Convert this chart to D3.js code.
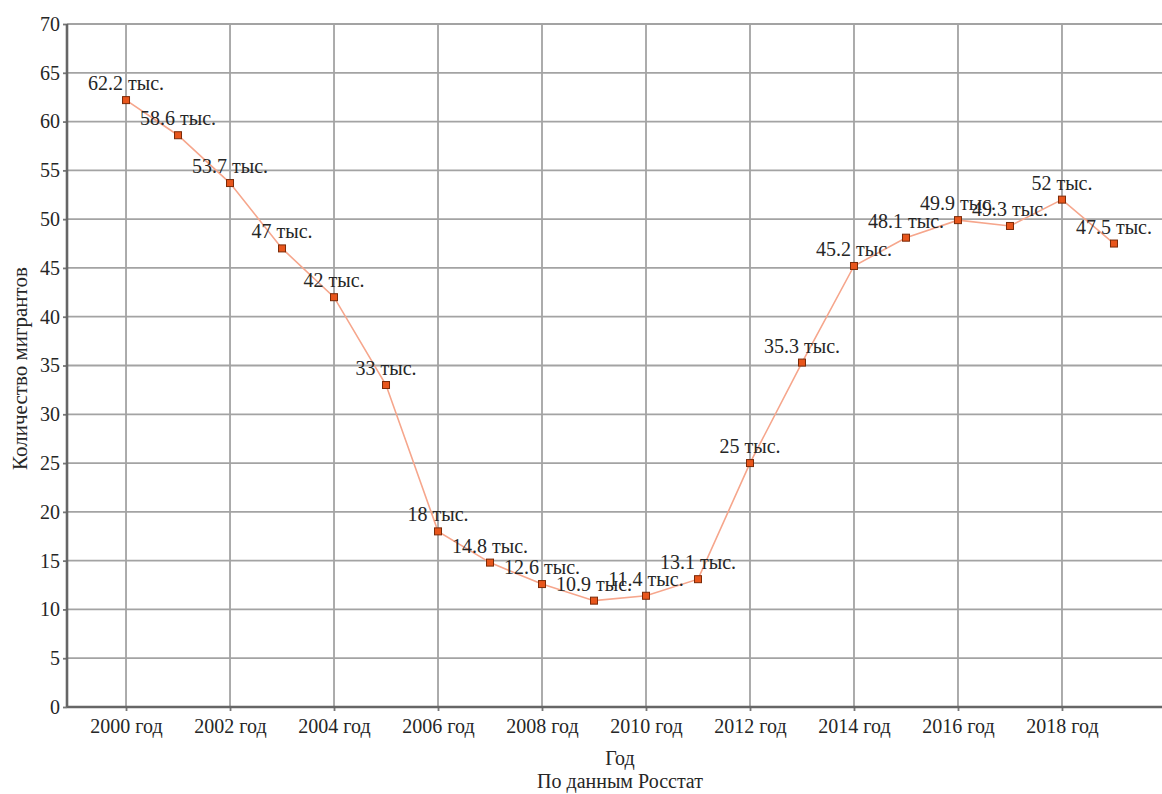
<!DOCTYPE html>
<html><head><meta charset="utf-8">
<script src="https://cdn.jsdelivr.net/npm/d3@7"></script>
<style>body{margin:0;background:#fff}</style>
</head><body><svg id="c" width="1162" height="794"></svg>
<script>
const years = [2000,2001,2002,2003,2004,2005,2006,2007,2008,2009,2010,2011,2012,2013,2014,2015,2016,2017,2018,2019];
const values = [62.2,58.6,53.7,47,42,33,18,14.8,12.6,10.9,11.4,13.1,25,35.3,45.2,48.1,49.9,49.3,52,47.5];
const xTickYears = [2000,2002,2004,2006,2008,2010,2012,2014,2016,2018];
const yTicks = [0,5,10,15,20,25,30,35,40,45,50,55,60,65,70];
const labelSuffix = " тыс.";
const yearSuffix = " год";

const TXT = "#262626";
const svg = d3.select("#c");
const L = 67, T = 24, B = 707, R = 1173;
const x = d3.scaleLinear().domain([1998.865, 2020.135]).range([L, R]);
const y = d3.scaleLinear().domain([0, 70]).range([B, T]);

function serif(sel, size) {
  return sel.style("font-family", '"Times New Roman"').attr("font-size", size).attr("fill", TXT);
}

// grid
svg.append("g").selectAll("line").data(yTicks.filter(d=>d>0)).join("line")
  .attr("x1", L).attr("x2", 1162).attr("y1", d=>y(d)).attr("y2", d=>y(d))
  .attr("stroke", "#a3a3a3").attr("stroke-width", 1.8);
svg.append("g").selectAll("line").data(xTickYears).join("line")
  .attr("x1", d=>x(d)).attr("x2", d=>x(d)).attr("y1", T).attr("y2", B)
  .attr("stroke", "#a3a3a3").attr("stroke-width", 1.8);

// axes
const yAxis = svg.append("g").attr("transform", `translate(${L},0)`)
  .call(d3.axisLeft(y).tickValues(yTicks).tickSize(4).tickPadding(3).tickFormat(d3.format("d")));
const xAxis = svg.append("g").attr("transform", `translate(0,${B})`)
  .call(d3.axisBottom(x).tickValues(xTickYears).tickSize(4).tickPadding(8).tickFormat(d=>d+yearSuffix));
[xAxis, yAxis].forEach(a=>{
  a.attr("font-family", null).attr("font-size", null);
  a.select(".domain").remove();
  a.selectAll(".tick line").attr("stroke","#777").attr("stroke-width",1.8);
  serif(a.selectAll("text"), 20);
});
svg.append("line").attr("x1",L).attr("x2",L).attr("y1",T).attr("y2",B).attr("stroke","#666").attr("stroke-width",2.6);
svg.append("line").attr("x1",L).attr("x2",1162).attr("y1",B).attr("y2",B).attr("stroke","#666").attr("stroke-width",2.6);

// line
const data = years.map((yr,i)=>({yr, v: values[i]}));
svg.append("path").datum(data)
  .attr("d", d3.line().x(d=>x(d.yr)).y(d=>y(d.v)))
  .attr("fill","none").attr("stroke","#f6a68c").attr("stroke-width",1.6);

svg.append("g").selectAll("rect").data(data).join("rect")
  .attr("x", d=>x(d.yr)-3.5).attr("y", d=>y(d.v)-3.5).attr("width",7).attr("height",7)
  .attr("fill","#e8561c").attr("stroke","#7a2a08").attr("stroke-width",1);

serif(svg.append("g").selectAll("text").data(data).join("text")
  .attr("x", d=>x(d.yr)).attr("y", d=>y(d.v)-10).attr("text-anchor","middle")
  .text(d=>d.v+labelSuffix), 20);

// titles
serif(svg.append("text").attr("transform",`translate(27,${(T+B)/2+3}) rotate(-90)`).attr("text-anchor","middle")
  .text("Количество мигрантов"), 21);
serif(svg.append("text").attr("x",(L+R)/2).attr("y",765).attr("text-anchor","middle").text("Год"), 20);
serif(svg.append("text").attr("x",(L+R)/2).attr("y",788).attr("text-anchor","middle").text("По данным Росстат"), 20);
</script></body></html>
